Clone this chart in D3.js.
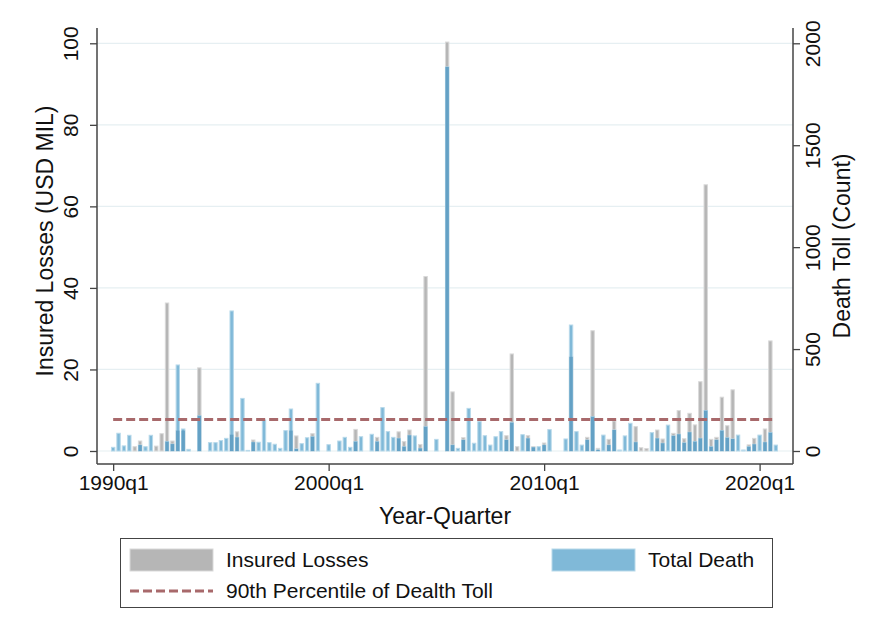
<!DOCTYPE html>
<html>
<head>
<meta charset="utf-8">
<script src="https://cdn.jsdelivr.net/npm/d3@7"></script>
<style>
  body { margin: 0; background: #fff; }
  text { font-family: "Liberation Sans", Arial, Helvetica, sans-serif; fill: #111; }
</style>
</head>
<body>
<div id="chart"></div>
<script>
// quarterly series, 1990q1 .. 2020q4
const startYear = 1990;
const insuredLosses = [
  0, 0, 0, 0, 1.06, 2.45, 0, 0, 1.2, 4.25,
  36.3, 2.45, 5.0, 5.0, 0, 0, 20.4, 0, 0, 0,
  0, 0, 4, 4.7, 0, 0, 2.7, 0, 0, 0,
  0, 0, 0, 5, 3.7, 0, 0, 4.25, 0, 0,
  0, 0, 0, 0, 0, 5.3, 0, 0, 0, 3.35,
  0, 0, 0, 4.7, 2.3, 5.15, 0, 1.6, 42.8, 0,
  0, 0, 100.3, 14.5, 0, 3.27, 0, 0, 0, 0,
  0, 0, 0, 3.76, 23.8, 1.06, 0, 3.76, 1.06, 0,
  1.96, 0, 0, 0, 0, 23.1, 0, 0, 3.35, 29.5,
  0.65, 0, 2.86, 7.36, 0, 0, 0, 5.97, 0.8, 0.6,
  0, 5.15, 2.94, 0, 4.33, 9.9, 3.0, 9.24, 6.4, 17,
  65.3, 2.86, 3.35, 13.2, 6.2, 15, 0, 0, 1.5, 3.1,
  0, 5.4, 27, 0
];
const totalDeath = [
  18, 87, 25, 77, 0, 29, 21, 77, 0, 0,
  46, 34, 422, 108, 8, 0, 173, 0, 41, 41,
  51, 62, 687, 67, 258, 3, 43, 43, 152, 41,
  33, 13, 100, 206, 10, 36, 65, 70, 332, 0,
  31, 0, 49, 67, 18, 46, 70, 0, 82, 46,
  213, 95, 67, 62, 21, 77, 74, 13, 119, 0,
  57, 0, 1884, 29, 13, 54, 209, 38, 144, 75,
  29, 70, 95, 54, 139, 0, 80, 62, 18, 21,
  29, 105, 0, 0, 59, 618, 95, 29, 54, 168,
  5, 78, 29, 103, 5, 74, 136, 43, 0, 0,
  90, 62, 38, 127, 74, 82, 40, 92, 46, 62,
  198, 21, 54, 100, 65, 59, 78, 5, 21, 33,
  78, 43, 90, 29
];
const p90Death = 155;
const leftTicks = [0, 20, 40, 60, 80, 100];
const rightTicks = [0, 500, 1000, 1500, 2000];
const xTickLabels = ["1990q1", "2000q1", "2010q1", "2020q1"];

const quarters = insuredLosses.map((d, i) => ({
  i: i,
  label: (startYear + Math.floor(i / 4)) + "q" + (i % 4 + 1),
  insured: d,
  death: totalDeath[i]
}));

const W = 870, H = 639;
const plot = { left: 97, right: 793, top: 28, bottom: 464 };

const svg = d3.select("#chart").append("svg")
  .attr("width", W).attr("height", H);

const x = d3.scaleLinear().domain([-3, 126.2]).range([plot.left, plot.right]);
const yL = d3.scaleLinear().domain([-3.19, 103.75]).range([plot.bottom, plot.top]);
const yR = d3.scaleLinear().domain([-3.19 * 20, 103.75 * 20]).range([plot.bottom, plot.top]);

const idxOf = lab => quarters.findIndex(q => q.label === lab);

// gridlines
svg.append("g").selectAll("line")
  .data(leftTicks)
  .join("line")
  .attr("x1", plot.left).attr("x2", plot.right)
  .attr("y1", d => yL(d)).attr("y2", d => yL(d))
  .attr("stroke", "#e6eff2").attr("stroke-width", 1.2);

const bw = 3.4;

// insured losses (gray)
svg.append("g").selectAll("rect")
  .data(quarters)
  .join("rect")
  .attr("x", d => x(d.i) - bw / 2)
  .attr("width", bw)
  .attr("y", d => yL(d.insured))
  .attr("height", d => yL(0) - yL(d.insured))
  .attr("fill", "#b6b6b6")
  .attr("stroke", "#d9d9d9")
  .attr("stroke-width", 1);

// total death (blue)
svg.append("g").selectAll("rect")
  .data(quarters)
  .join("rect")
  .attr("x", d => x(d.i) - bw / 2)
  .attr("width", bw)
  .attr("y", d => yR(d.death))
  .attr("height", d => yR(0) - yR(d.death))
  .attr("fill", "#80b9d8")
  .attr("stroke", "#b8d9ea")
  .attr("stroke-width", 1);

// where both bars overlap, the blue reads darker
const overlapH = d => Math.min(yL(0) - yL(d.insured), yR(0) - yR(d.death));
svg.append("g").selectAll("rect")
  .data(quarters.filter(d => overlapH(d) > 0))
  .join("rect")
  .attr("x", d => x(d.i) - bw / 2)
  .attr("width", bw)
  .attr("y", d => yL(0) - overlapH(d))
  .attr("height", d => overlapH(d))
  .attr("fill", "#64a1c5");

// 90th percentile line
svg.append("line")
  .attr("x1", x(0)).attr("x2", x(quarters.length - 1))
  .attr("y1", yR(p90Death)).attr("y2", yR(p90Death))
  .attr("stroke", "#a8696b").attr("stroke-width", 3)
  .attr("stroke-dasharray", "9,4");

// axes
const leftAxis = svg.append("g")
  .attr("transform", `translate(${plot.left},0)`)
  .call(d3.axisLeft(yL).tickValues(leftTicks).tickSize(7).tickSizeOuter(0));
leftAxis.select(".domain").attr("d", `M0,${plot.top}V${plot.bottom}`);
leftAxis.selectAll("text")
  .attr("transform", "translate(-19,0) rotate(-90)")
  .attr("x", 0).attr("y", 0).attr("dy", "0em")
  .attr("text-anchor", "middle")
  .style("font-size", "21px");

const rightAxis = svg.append("g")
  .attr("transform", `translate(${plot.right},0)`)
  .call(d3.axisRight(yR).tickValues(rightTicks).tickFormat(d3.format("d")).tickSize(7).tickSizeOuter(0));
rightAxis.select(".domain").attr("d", `M0,${plot.top}V${plot.bottom}`);
rightAxis.selectAll("text")
  .attr("transform", "translate(27,0) rotate(-90)")
  .attr("x", 0).attr("y", 0).attr("dy", "0em")
  .attr("text-anchor", "middle")
  .style("font-size", "21px");

const bottomAxis = svg.append("g")
  .attr("transform", `translate(0,${plot.bottom})`)
  .call(d3.axisBottom(x)
    .tickValues(xTickLabels.map(idxOf))
    .tickFormat(i => quarters[i].label)
    .tickSize(7).tickSizeOuter(0));
bottomAxis.select(".domain").attr("d", `M${plot.left},0H${plot.right}`);
bottomAxis.selectAll("text").attr("y", 11).style("font-size", "21px");

svg.selectAll(".domain").attr("stroke", "#444").attr("stroke-width", 1.5);
svg.selectAll(".tick line").attr("stroke", "#444").attr("stroke-width", 1.3);
svg.selectAll(".tick text").attr("fill", "#111");

// axis titles
svg.append("text")
  .attr("transform", `translate(53,${(plot.top + plot.bottom) / 2 - 5}) rotate(-90)`)
  .attr("text-anchor", "middle")
  .style("font-size", "23px")
  .text("Insured Losses (USD MIL)");

svg.append("text")
  .attr("transform", `translate(850,${(plot.top + plot.bottom) / 2}) rotate(-90)`)
  .attr("text-anchor", "middle")
  .style("font-size", "23px")
  .text("Death Toll (Count)");

svg.append("text")
  .attr("x", (plot.left + plot.right) / 2).attr("y", 524)
  .attr("text-anchor", "middle")
  .style("font-size", "23px")
  .text("Year-Quarter");

// legend
const lg = svg.append("g");
lg.append("rect")
  .attr("x", 120.5).attr("y", 538.5).attr("width", 652).attr("height", 69)
  .attr("fill", "#fff").attr("stroke", "#444").attr("stroke-width", 1);

const legendItems = [
  { label: "Insured Losses", type: "bar", fill: "#b6b6b6", stroke: "#d9d9d9", x: 130, y: 560 },
  { label: "Total Death", type: "bar", fill: "#80b9d8", stroke: "#b8d9ea", x: 552, y: 560 },
  { label: "90th Percentile of Dealth Toll", type: "line", x: 130, y: 591 }
];

legendItems.forEach(it => {
  if (it.type === "bar") {
    lg.append("rect")
      .attr("x", it.x).attr("y", it.y - 11).attr("width", 83).attr("height", 22)
      .attr("fill", it.fill).attr("stroke", it.stroke).attr("stroke-width", 1);
  } else {
    lg.append("line")
      .attr("x1", it.x).attr("x2", it.x + 83)
      .attr("y1", it.y).attr("y2", it.y)
      .attr("stroke", "#a8696b").attr("stroke-width", 3)
      .attr("stroke-dasharray", "9,4");
  }
  lg.append("text")
    .attr("x", it.x + 96).attr("y", it.y).attr("dy", "0.35em")
    .style("font-size", "21px")
    .text(it.label);
});
</script>
</body>
</html>
